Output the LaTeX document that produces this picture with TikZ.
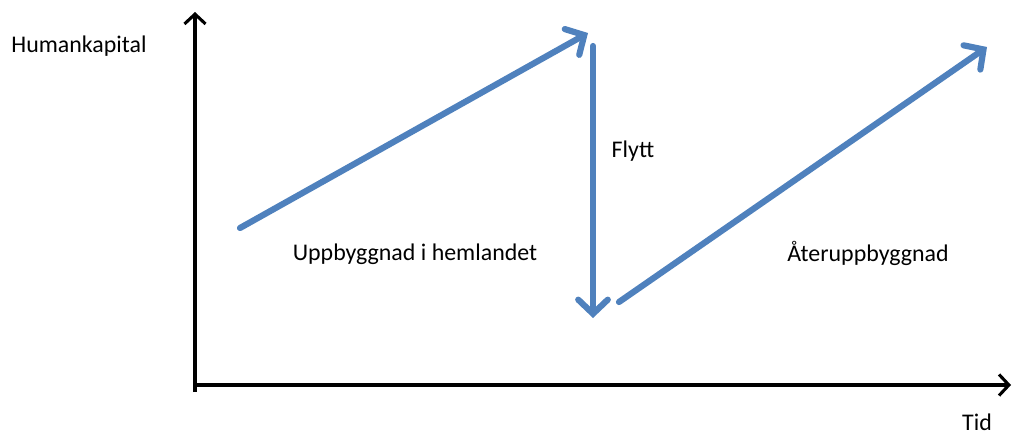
\documentclass[tikz,border=0pt]{standalone}
\usepackage{fontspec}
\setmainfont{Carlito}
\usetikzlibrary{arrows.meta}
\definecolor{officeblue}{RGB}{79,129,189}
\tikzset{
  axis/.style={line width=2.2pt, -{Straight Barb[length=7pt, width=15pt, line width=2.2pt]}},
  flow/.style={officeblue, line width=4.4pt, line cap=round, -{Straight Barb[length=10pt, width=21pt, line width=4.4pt, line cap=round]}},
  label/.style={font=\fontsize{17}{20}\selectfont, inner sep=0pt, anchor=base}
}

\begin{document}
\begin{tikzpicture}[x=0.025cm, y=-0.025cm]
\useasboundingbox (0,0) rectangle (1013,435);
% axes
\coordinate (origin) at (195,392);
\coordinate (ytop) at (195,12);
\coordinate (xstart) at (193,385);
\coordinate (xend) at (1011,385);
\draw [axis] (origin) -- (ytop);
\draw [axis] (xstart) -- (xend);
\node [label] (humankapital) at (79,52) {Humankapital};
\node [label, text depth=0pt] (tid) at (977,430) {Tid};
% arrows
\coordinate (a1) at (240,228);
\coordinate (b1) at (588,33);
\coordinate (a2) at (593,46);
\coordinate (b2) at (593,318);
\coordinate (a3) at (619,302);
\coordinate (b3) at (987,47);
\draw [flow] (a1) -- (b1);
\draw [flow] (a2) -- (b2);
\draw [flow] (a3) -- (b3);
\node [label] (flytt) at (633,157) {Flytt};
\node [label] (hemlandet) at (415,260) {Uppbyggnad i hemlandet};
\node [label] (ater) at (868,261) {Återuppbyggnad};
\end{tikzpicture}
\end{document}
